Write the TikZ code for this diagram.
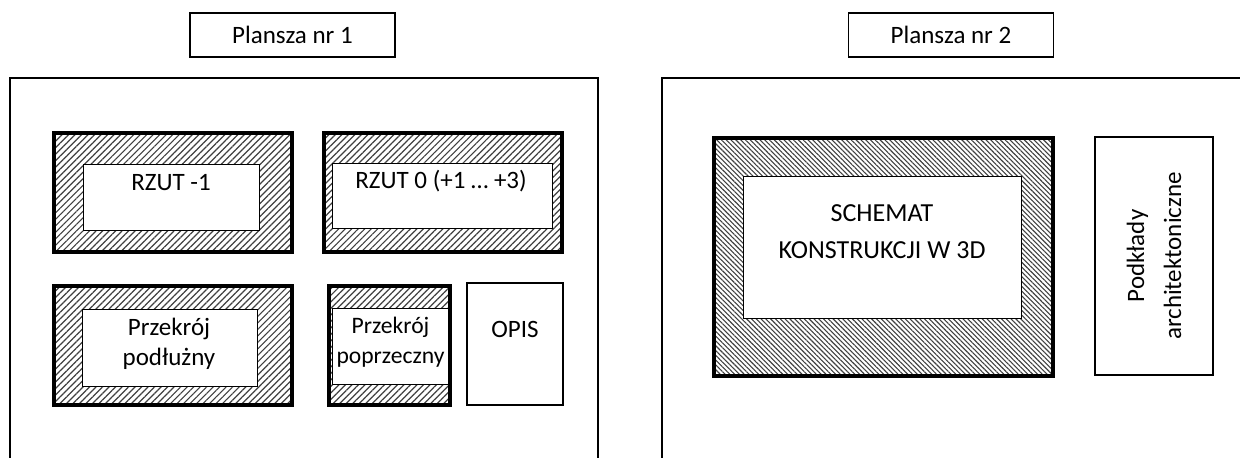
\documentclass[tikz,border=0pt]{standalone}
\usepackage{fontspec}
\setmainfont{Carlito}
\usetikzlibrary{patterns.meta}

\begin{document}
\begin{tikzpicture}[x=0.5pt,y=-0.5pt,
    title node/.style={rectangle,draw,line width=0.6pt,minimum width=102.5pt,minimum height=22pt,font=\fontsize{12.5}{15}\selectfont},
    hatch node/.style={rectangle,draw,line width=2.2pt,pattern={Lines[angle=45,distance=2.3pt,line width=0.6pt]},pattern color=black!75},
    dense hatch/.style={hatch node,pattern={Lines[angle=-45,distance=1.7pt,line width=0.55pt]}},
    inner node/.style={rectangle,draw,fill=white,line width=0.5pt},
    plain node/.style={rectangle,draw,line width=0.6pt},
    text node/.style={align=center,anchor=base,inner sep=0pt,font=\fontsize{12.5}{15}\selectfont}]

  \useasboundingbox (0,0) rectangle (1240,457);

  % sheet frames
  \draw[line width=1.2pt] (10,470) |- (598,78) -- (598,470);
  \draw[line width=1.2pt] (662,470) |- (1250,78);

  \node[title node] (t1) at (292.5,35) {Plansza nr 1};
  \node[title node] (t2) at (951,35) {Plansza nr 2};

  % plansza 1
  \node[hatch node,minimum width=119pt,minimum height=59.5pt] (h1) at (173,192.5) {};
  \node[inner node,minimum width=88pt,minimum height=33pt] (i1) at (171,197) {};
  \node[text node] (l1) at (171,190) {RZUT -1};

  \node[hatch node,minimum width=119pt,minimum height=59.5pt] (h2) at (443,192.5) {};
  \node[inner node,minimum width=110pt,minimum height=32.5pt] (i2) at (442,195.5) {};
  \node[text node] (l2) at (441,188) {RZUT 0 (+1 … +3)};

  \node[hatch node,minimum width=119pt,minimum height=59.5pt] (h3) at (173,345.5) {};
  \node[inner node,minimum width=87.5pt,minimum height=38.5pt] (i3) at (169.5,347.5) {};
  \node[text node] (l3) at (169,365) {Przekrój\\podłużny};

  \node[hatch node,minimum width=60.5pt,minimum height=59.5pt] (h4) at (389.5,345.5) {};
  \node[inner node,minimum width=58pt,minimum height=38pt] (i4) at (390,346) {};
  \node[text node,font=\fontsize{11.8}{15}\selectfont] (l4) at (390.5,363) {Przekrój\\poprzeczny};

  \node[plain node,minimum width=48pt,minimum height=61pt] (o1) at (515,344) {};
  \node[text node] (l5) at (515,337) {OPIS};

  % plansza 2
  \node[dense hatch,minimum width=169.5pt,minimum height=119pt] (h5) at (883.5,257) {};
  \node[inner node,minimum width=139pt,minimum height=71pt] (i5) at (882,247) {};
  \node[text node,font=\fontsize{13}{18.5}\selectfont] (l6) at (882,258) {SCHEMAT\\KONSTRUKCJI W 3D};

  \node[plain node,minimum width=59pt,minimum height=119pt] (p1) at (1154,256) {};
  \node[text node,rotate=90,anchor=center,font=\fontsize{12.5}{18.5}\selectfont] (l7) at (p1.center) {Podkłady\\architektoniczne};
\end{tikzpicture}
\end{document}
